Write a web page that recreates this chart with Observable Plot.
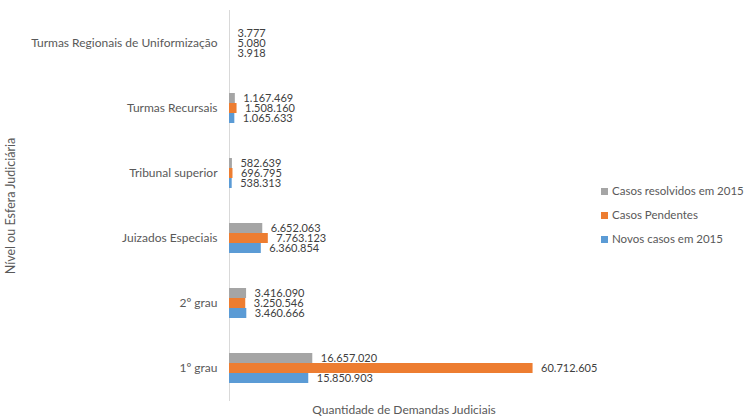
<!DOCTYPE html>
<html><head><meta charset="utf-8">
<script src="https://cdn.jsdelivr.net/npm/d3@7"></script>
<script src="https://cdn.jsdelivr.net/npm/@observablehq/plot@0.6"></script>
<style>
body{margin:0;background:#fff;font-family:Lato,"Open Sans",sans-serif;}
#wrap{position:relative;width:747px;height:419px;}
.xl{position:absolute;left:229px;width:350px;top:402px;text-align:center;font-size:12px;color:#595959;}
.yl{position:absolute;left:10px;top:206px;transform:translate(-50%,-50%) rotate(-90deg);white-space:nowrap;font-size:12.5px;color:#595959;}
.leg{position:absolute;left:601px;font-size:11.5px;color:#595959;white-space:nowrap;line-height:14px;}
.leg span{display:inline-block;width:7px;height:7px;margin-right:4px;vertical-align:0px;}
</style></head>
<body><div id="wrap"></div>
<script>
const categories = ["Turmas Regionais de Uniformização","Turmas Recursais","Tribunal superior","Juizados Especiais","2º grau","1º grau"];
const series = ["Casos resolvidos em 2015","Casos Pendentes","Novos casos em 2015"];
const resolvidos = [3777,1167469,582639,6652063,3416090,16657020];
const pendentes = [5080,1508160,696795,7763123,3250546,60712605];
const novos = [3918,1065633,538313,6360854,3460666,15850903];
const colors = ["#A5A5A5","#ED7D31","#5B9BD5"];
const xLabel = "Quantidade de Demandas Judiciais";
const yLabel = "Nível ou Esfera Judiciária";

const valuesBySeries = [resolvidos, pendentes, novos];
const data = [];
categories.forEach((c,i)=>series.forEach((s,j)=>data.push({category:c, series:s, value:valuesBySeries[j][i]})));
const fmt = d3.formatLocale({decimal:",",thousands:".",grouping:[3],currency:["",""]}).format(",d");

const chart = Plot.plot({
  width:747, height:419,
  marginLeft:229, marginRight:168, marginTop:8, marginBottom:17,
  style:{fontFamily:"Lato, 'Open Sans', sans-serif", fontSize:"12px", color:"#595959", background:"#fff"},
  x:{domain:[0,70000000], axis:null},
  y:{domain:series, padding:0.04, axis:null},
  fy:{domain:categories, paddingInner:0.51, paddingOuter:0.26, label:null, axis:null},
  color:{domain:series, range:colors},
  marks:[
    Plot.ruleX([0], {stroke:"#d9d9d9", insetTop:-17, insetBottom:-17}),
    Plot.barX(data, {x:"value", y:"series", fy:"category", fill:"series"}),
    Plot.text(data, {x:"value", y:"series", fy:"category", text:d=>fmt(d.value), textAnchor:"start", dx:8, fill:"#404040", fontSize:11}),
    Plot.axisFy({anchor:"left", tickSize:0, tickPadding:12, label:null, fill:"#595959", fontSize:12})
  ]
});
const wrap = document.getElementById("wrap");
wrap.appendChild(chart);
const xl = document.createElement("div"); xl.className="xl"; xl.textContent=xLabel; wrap.appendChild(xl);
const yl = document.createElement("div"); yl.className="yl"; yl.textContent=yLabel; wrap.appendChild(yl);
const legTops=[184,208,232];
series.forEach((s,i)=>{
  const d=document.createElement("div"); d.className="leg"; d.style.top=legTops[i]+"px";
  const sw=document.createElement("span"); sw.style.background=colors[i];
  d.appendChild(sw); d.appendChild(document.createTextNode(s)); wrap.appendChild(d);
});
</script></body></html>
